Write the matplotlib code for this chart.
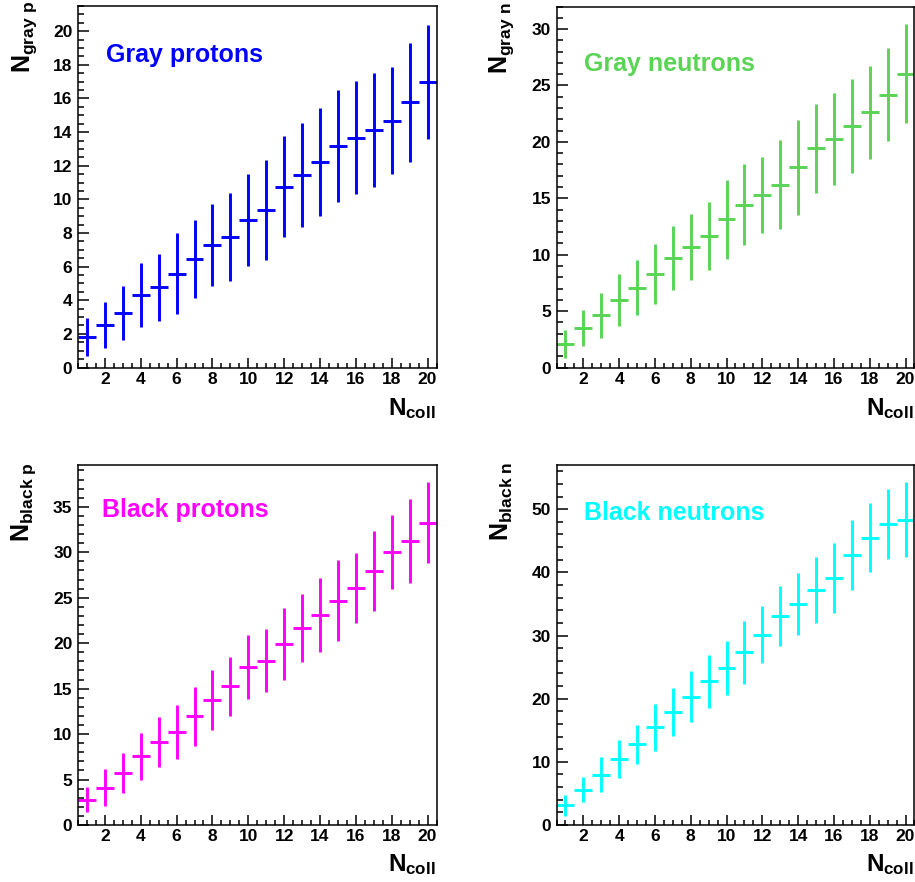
import matplotlib
matplotlib.use("Agg")
import matplotlib.pyplot as plt
from matplotlib.ticker import MultipleLocator

plt.rcParams['font.family'] = ['Liberation Sans', 'DejaVu Sans']
plt.rcParams['font.weight'] = 'bold'
plt.rcParams['mathtext.fontset'] = 'custom'
plt.rcParams['mathtext.rm'] = 'Liberation Sans:bold'
plt.rcParams['mathtext.it'] = 'Liberation Sans:bold'
plt.rcParams['mathtext.bf'] = 'Liberation Sans:bold'

# Number of binary collisions (bin centres)
n_coll = list(range(1, 21))

# Mean multiplicities and their spreads per N_coll bin
gray_p = [1.83, 2.54, 3.23, 4.31, 4.76, 5.58, 6.45, 7.28, 7.76, 8.75,
          9.38, 10.75, 11.45, 12.22, 13.19, 13.67, 14.13, 14.68, 15.77, 16.98]
gray_p_err = [1.12, 1.38, 1.62, 1.90, 2.00, 2.40, 2.32, 2.42, 2.61, 2.74,
              2.97, 3.00, 3.07, 3.22, 3.32, 3.35, 3.38, 3.20, 3.53, 3.41]

gray_n = [2.08, 3.47, 4.63, 5.99, 7.06, 8.30, 9.69, 10.67, 11.65, 13.16,
          14.44, 15.30, 16.22, 17.76, 19.42, 20.25, 21.40, 22.62, 24.19, 26.06]
gray_n_err = [1.26, 1.60, 1.98, 2.30, 2.45, 2.67, 2.82, 2.94, 3.01, 3.50,
              3.56, 3.38, 3.93, 4.21, 3.94, 4.09, 4.13, 4.12, 4.12, 4.41]

black_p = [2.79, 4.12, 5.77, 7.54, 9.12, 10.22, 11.95, 13.75, 15.26, 17.35,
           18.05, 19.93, 21.69, 23.09, 24.67, 26.07, 27.94, 30.04, 31.25, 33.27]
black_p_err = [1.38, 2.00, 2.20, 2.54, 2.74, 2.94, 3.24, 3.31, 3.24, 3.50,
               3.46, 3.93, 3.73, 4.07, 4.43, 3.86, 4.38, 4.04, 4.63, 4.49]

black_n = [3.12, 5.61, 7.99, 10.42, 12.80, 15.45, 17.88, 20.32, 22.75, 24.81,
           27.35, 30.16, 33.07, 35.03, 37.14, 39.10, 42.75, 45.50, 47.67, 48.36]
black_n_err = [1.67, 2.04, 2.70, 2.99, 3.07, 3.68, 3.86, 4.02, 4.21, 4.26,
               4.98, 4.48, 4.79, 4.93, 5.22, 5.56, 5.56, 5.48, 5.53, 5.93]

titles = ["Gray protons", "Gray neutrons", "Black protons", "Black neutrons"]
ylabels = [r"$N_{gray\ p}$", r"$N_{gray\ n}$", r"$N_{black\ p}$", r"$N_{black\ n}$"]
colors = ["#0000ff", "#59d454", "#ff00ff", "#00ffff"]

W, H = 915, 882
fig = plt.figure(figsize=(W / 100, H / 100), dpi=100)

# panel geometry in pixels: left, top, right, bottom
boxes = [(78, 6, 436.5, 367.5), (556.5, 6.5, 914.5, 367.5),
         (78, 465, 436.5, 825), (556.5, 465, 914.5, 825)]
ylims = [21.5, 32.0, 39.6, 57.0]
major = [2, 5, 5, 10]
minor = [0.5, 1, 1, 2]
title_pos = [(0.078, 0.864), (0.077, 0.841), (0.067, 0.875), (0.077, 0.867)]
ylab_x = [25, 502, 24, 502]
ylab_top = [1, 2, 462, 462]
xlab_y = [409, 409, 865, 865]

panels = [(gray_p, gray_p_err), (gray_n, gray_n_err),
          (black_p, black_p_err), (black_n, black_n_err)]

for i, ((vals, errs), col) in enumerate(zip(panels, colors)):
    l, t, r, b = boxes[i]
    ax = fig.add_axes([l / W, 1 - b / H, (r - l) / W, (b - t) / H])
    ax.errorbar(n_coll, vals, yerr=errs, xerr=0.5, fmt='none',
                ecolor=col, elinewidth=2.1, capsize=0)
    ax.set_xlim(0.5, 20.5)
    ax.set_ylim(0, ylims[i])
    ax.xaxis.set_major_locator(MultipleLocator(2))
    ax.xaxis.set_minor_locator(MultipleLocator(0.5))
    ax.yaxis.set_major_locator(MultipleLocator(major[i]))
    ax.yaxis.set_minor_locator(MultipleLocator(minor[i]))
    ax.tick_params(which='both', direction='in', top=False, right=False,
                   labelsize=12.5, width=1.1, colors='black')
    ax.tick_params(axis='y', which='major', length=8, pad=4)
    ax.tick_params(axis='y', which='minor', length=4)
    ax.tick_params(axis='x', which='major', length=7, pad=3)
    ax.tick_params(axis='x', which='minor', length=3.5)
    for lab in ax.get_xticklabels() + ax.get_yticklabels():
        lab.set_fontweight('bold')
    for s in ax.spines.values():
        s.set_linewidth(1.1)
    ax.text(title_pos[i][0], title_pos[i][1], titles[i], transform=ax.transAxes,
            color=col, fontsize=18, fontweight='bold', ha='left', va='center')
    fig.text(ylab_x[i] / W, 1 - ylab_top[i] / H, ylabels[i], rotation=90,
             fontsize=18, ha='center', va='top')
    fig.text((r - 1) / W, 1 - xlab_y[i] / H, r"$N_{coll}$",
             fontsize=17.5, ha='right', va='center')

fig.savefig("out.png", dpi=100)
